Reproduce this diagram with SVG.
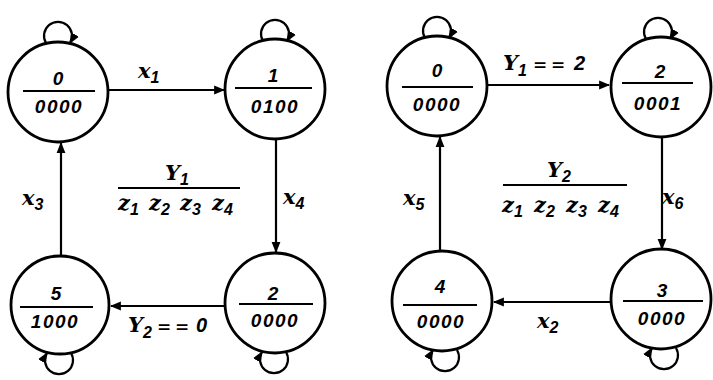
<svg xmlns="http://www.w3.org/2000/svg" width="713" height="380" viewBox="0 0 713 380">
<defs>
<marker id="ah" viewBox="0 0 10 10" refX="9" refY="5" markerWidth="11" markerHeight="11" markerUnits="userSpaceOnUse" orient="auto">
<path d="M0,1 L10,5 L0,9 Z" fill="#000"/>
</marker>
</defs>
<style>
.n{fill:#fff;stroke:#000;stroke-width:2.8}
.d{stroke:#000;stroke-width:2.2}
.e{fill:none;stroke:#000;stroke-width:2.2}
.t{font-family:"Liberation Sans",Arial,sans-serif;font-style:italic;font-weight:bold;font-size:19px;text-anchor:middle;fill:#000}
.b{letter-spacing:1.5px}
.l{font-family:"DejaVu Serif","Liberation Serif",serif;font-style:italic;font-weight:bold;font-size:21px;fill:#000}
.q{font-family:"DejaVu Serif","Liberation Serif",serif;font-weight:bold;font-size:17px}
.s{font-family:"Liberation Sans",Arial,sans-serif;font-style:italic;font-weight:bold;font-size:16px}
.v{font-family:"Liberation Sans",Arial,sans-serif;font-style:italic;font-weight:bold;font-size:20px}
</style>
<rect width="713" height="380" fill="#fff"/>
<g id="connectors">
<path class="e" d="M108,90 L224,90" marker-end="url(#ah)"/>
<path class="e" d="M276,138 L276,252" marker-end="url(#ah)"/>
<path class="e" d="M225,306 L111,306" marker-end="url(#ah)"/>
<path class="e" d="M61,257 L61,143" marker-end="url(#ah)"/>
<path class="e" d="M46,43 A14,14 0 1 1 70,43" marker-end="url(#ah)"/>
<path class="e" d="M263,41 A14,14 0 1 1 287,41" marker-end="url(#ah)"/>
<path class="e" d="M71,353 A14,14 0 1 1 47,353" marker-end="url(#ah)"/>
<path class="e" d="M286,352 A14,14 0 1 1 262,352" marker-end="url(#ah)"/>
<path class="e" d="M488,85 L609,85" marker-end="url(#ah)"/>
<path class="e" d="M662,136 L662,249" marker-end="url(#ah)"/>
<path class="e" d="M610,302 L494,302" marker-end="url(#ah)"/>
<path class="e" d="M440,252 L440,137" marker-end="url(#ah)"/>
<path class="e" d="M425,38 A14,14 0 1 1 449,38" marker-end="url(#ah)"/>
<path class="e" d="M646,39 A14,14 0 1 1 670,39" marker-end="url(#ah)"/>
<path class="e" d="M457,350 A14,14 0 1 1 433,350" marker-end="url(#ah)"/>
<path class="e" d="M676,348 A14,14 0 1 1 652,348" marker-end="url(#ah)"/>
</g>
<g id="L0"><circle class="n" cx="58" cy="92" r="50"/><text class="t" x="58" y="85">0</text><line class="d" x1="23" y1="91" x2="95" y2="91"/><text class="t b" x="59" y="113">0000</text></g>
<g id="L1"><circle class="n" cx="275" cy="89" r="50"/><text class="t" x="273" y="82">1</text><line class="d" x1="235" y1="88" x2="312" y2="88"/><text class="t b" x="275" y="113">0100</text></g>
<g id="L2"><circle class="n" cx="275" cy="303" r="50"/><text class="t" x="273" y="300">2</text><line class="d" x1="239" y1="304" x2="313" y2="304"/><text class="t b" x="275" y="327">0000</text></g>
<g id="L5"><circle class="n" cx="60" cy="305" r="49"/><text class="t" x="56" y="300">5</text><line class="d" x1="20" y1="307" x2="93" y2="307"/><text class="t b" x="55" y="328">1000</text></g>
<g id="R0"><circle class="n" cx="437" cy="86" r="50"/><text class="t" x="437" y="77">0</text><line class="d" x1="402" y1="87" x2="473" y2="87"/><text class="t b" x="437" y="111">0000</text></g>
<g id="R2"><circle class="n" cx="661" cy="87" r="50"/><text class="t" x="660" y="78">2</text><line class="d" x1="622" y1="83" x2="693" y2="83"/><text class="t b" x="658" y="110">0001</text></g>
<g id="R3"><circle class="n" cx="661" cy="299" r="50"/><text class="t" x="662" y="297">3</text><line class="d" x1="623" y1="301" x2="703" y2="301"/><text class="t b" x="662" y="325">0000</text></g>
<g id="R4"><circle class="n" cx="442" cy="301" r="50"/><text class="t" x="440" y="293">4</text><line class="d" x1="403" y1="305" x2="477" y2="305"/><text class="t b" x="441" y="328">0000</text></g>
<g id="labels">
<text class="l" x="138" y="78">x<tspan class="s" dy="5">1</tspan></text>
<text class="l" x="283" y="204">x<tspan class="s" dy="5">4</tspan></text>
<text class="l" x="22" y="205">x<tspan class="s" dy="5">3</tspan></text>
<text class="l" x="128" y="332">Y<tspan class="s" dy="6">2</tspan><tspan class="q" x="157" dy="-6">=</tspan><tspan class="q" x="175">=</tspan><tspan class="v" x="196">0</tspan></text>
<text class="l" x="165" y="180">Y<tspan class="s" dy="5">1</tspan></text>
<line class="d" x1="118" y1="188" x2="240" y2="188"/>
<text class="l" x="118" y="210">z<tspan class="s" dy="5">1</tspan><tspan x="149" dy="-5">z</tspan><tspan class="s" dy="5">2</tspan><tspan x="180" dy="-5">z</tspan><tspan class="s" dy="5">3</tspan><tspan x="212" dy="-5">z</tspan><tspan class="s" dy="5">4</tspan></text>
<text class="l" x="503" y="70">Y<tspan class="s" dy="6">1</tspan><tspan class="q" x="533" dy="-6">=</tspan><tspan class="q" x="551">=</tspan><tspan class="v" x="574">2</tspan></text>
<text class="l" x="662" y="204">x<tspan class="s" dy="5">6</tspan></text>
<text class="l" x="403" y="205">x<tspan class="s" dy="5">5</tspan></text>
<text class="l" x="537" y="328">x<tspan class="s" dy="5">2</tspan></text>
<text class="l" x="547" y="177">Y<tspan class="s" dy="5">2</tspan></text>
<line class="d" x1="503" y1="185" x2="627" y2="185"/>
<text class="l" x="502" y="212">z<tspan class="s" dy="5">1</tspan><tspan x="534" dy="-5">z</tspan><tspan class="s" dy="5">2</tspan><tspan x="566" dy="-5">z</tspan><tspan class="s" dy="5">3</tspan><tspan x="598" dy="-5">z</tspan><tspan class="s" dy="5">4</tspan></text>
</g>
</svg>
